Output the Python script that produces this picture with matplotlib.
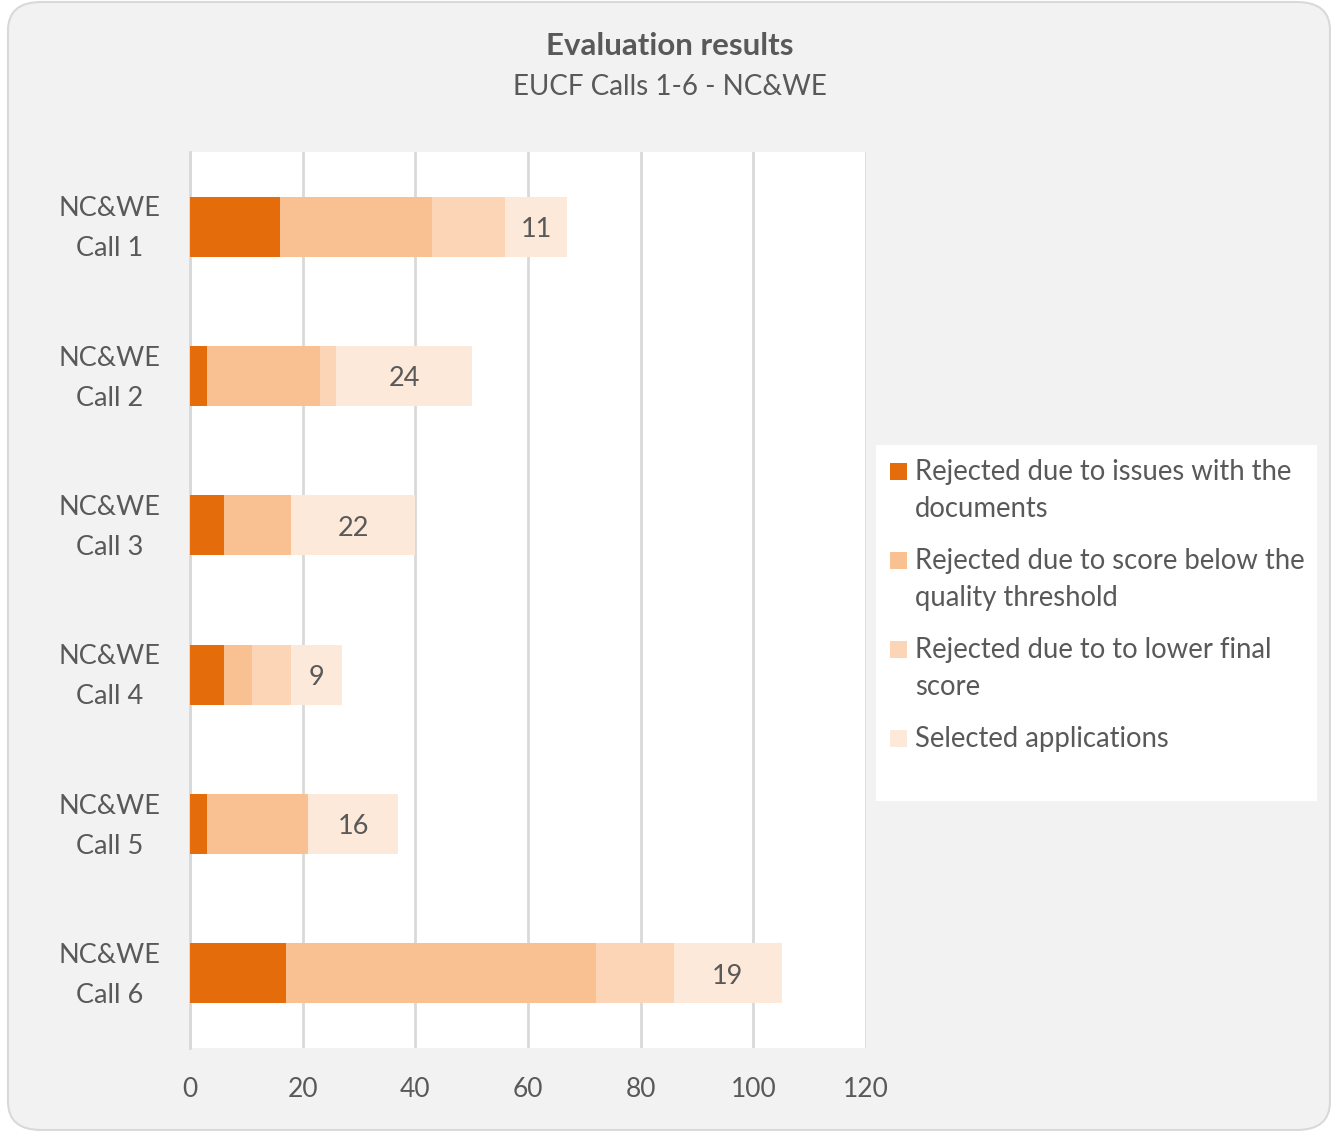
import matplotlib.pyplot as plt
from matplotlib.patches import FancyBboxPatch, Rectangle
from matplotlib.transforms import ScaledTranslation
import numpy as np

plt.rcParams['font.family'] = ['Lato', 'DejaVu Sans']

calls = ['NC&WE\nCall 1', 'NC&WE\nCall 2', 'NC&WE\nCall 3',
         'NC&WE\nCall 4', 'NC&WE\nCall 5', 'NC&WE\nCall 6']
rej_docs = [16, 3, 6, 6, 3, 17]
rej_quality = [27, 20, 12, 5, 18, 55]
rej_final = [13, 3, 0, 7, 0, 14]
selected = [11, 24, 22, 9, 16, 19]

series = [rej_docs, rej_quality, rej_final, selected]
names = ['Rejected due to issues with the\ndocuments',
         'Rejected due to score below the\nquality threshold',
         'Rejected due to to lower final\nscore',
         'Selected applications']
colors = ['#E46C0A', '#F9C091', '#FBD5B5', '#FDE9D9']
txt = '#595959'

fig = plt.figure(figsize=(13.31, 11.34), dpi=100)
fig.patch.set_facecolor('white')

# rounded grey background
bg = FancyBboxPatch((8/1331, 4/1134), 1322/1331, 1128/1134,
                    boxstyle='round,pad=0,rounding_size=0.025',
                    transform=fig.transFigure, facecolor='#F2F2F2',
                    edgecolor='#D9D9D9', linewidth=1.5, zorder=-10)
fig.patches.append(bg)

# legend white box
fig.patches.append(Rectangle((876/1331, 1 - 801/1134), 441/1331, 356/1134,
                             transform=fig.transFigure, facecolor='white',
                             edgecolor='none', zorder=-5))

ax = fig.add_axes([190/1331, 86/1134, 676/1331, 896/1134])
ax.set_zorder(2)
ax.set_facecolor('white')

y = np.arange(len(calls))
left = np.zeros(len(calls))
bars = []
for vals, name, c in zip(series, names, colors):
    b = ax.barh(y, vals, left=left, height=0.4, color=c, label=name, zorder=3)
    bars.append(b)
    left = left + np.array(vals)

for rect, v in zip(bars[-1], selected):
    ax.text(rect.get_x() + rect.get_width() / 2, rect.get_y() + rect.get_height() / 2 + 0.02,
            str(v), ha='center', va='center', fontsize=19.5, color=txt, zorder=4)

ax.set_xlim(0, 120)
ax.set_xticks(range(0, 121, 20))
ax.set_ylim(5.5, -0.5)
ax.set_yticks(y)
ax.set_yticklabels(calls, ha='center', linespacing=1.75)
ax.tick_params(axis='y', length=0, pad=58, labelsize=19.5, labelcolor=txt)
ax.tick_params(axis='x', length=0, pad=21, labelsize=19, labelcolor=txt)
shift = ScaledTranslation(0, 8/100, fig.dpi_scale_trans)
for lab in ax.get_yticklabels():
    lab.set_transform(lab.get_transform() + shift)
ax.grid(axis='x', color='#D9D9D9', linewidth=2, zorder=0)
for s in ['top', 'right', 'bottom']:
    ax.spines[s].set_visible(False)
ax.spines['left'].set_color('#D9D9D9')
ax.spines['left'].set_linewidth(2)

fig.text(670/1331, 1 - 46/1134, 'Evaluation results', ha='center', va='center',
         fontsize=22.5, fontweight='bold', color=txt)
fig.text(670/1331, 1 - 87/1134, 'EUCF Calls 1-6 - NC&WE', ha='center', va='center',
         fontsize=20, color=txt)

# legend drawn by hand: square aligned with the first text line
leg_y = [471, 560, 649, 738]
for name, c, ly in zip(names, colors, leg_y):
    fig.patches.append(Rectangle((890/1331, 1 - (ly + 8.5)/1134), 17/1331, 17/1134,
                                 transform=fig.transFigure, facecolor=c,
                                 edgecolor='none', zorder=3))
    fig.text(915/1331, 1 - (ly - 12)/1134, name, ha='left', va='top',
             fontsize=19.8, color=txt, linespacing=1.52)

fig.savefig('out.png', dpi=100, facecolor=fig.get_facecolor())
